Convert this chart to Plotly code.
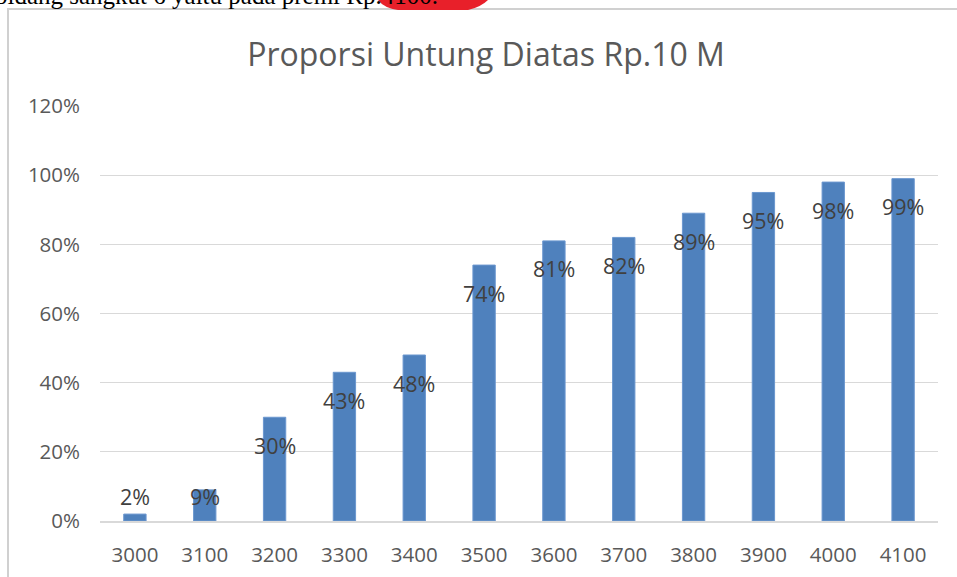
import plotly.graph_objects as go

categories = ["3000", "3100", "3200", "3300", "3400", "3500", "3600", "3700", "3800", "3900", "4000", "4100"]
values = [0.02, 0.09, 0.30, 0.43, 0.48, 0.74, 0.81, 0.82, 0.89, 0.95, 0.98, 0.99]
labels = ["2%", "9%", "30%", "43%", "48%", "74%", "81%", "82%", "89%", "95%", "98%", "99%"]
title_text = "Proporsi Untung Diatas Rp.10 M"
top_text = "bidang sangkut 6 yaitu pada premi Rp.4100."

W, H = 957, 577
L, R, T, B = 100, 19, 106, 56
FONT = "'Open Sans', sans-serif"

fig = go.Figure()
fig.add_trace(go.Bar(
    x=categories, y=values,
    marker=dict(color="#4f81bd", line=dict(color="#6b97cf", width=1)),
    width=0.32,
    hoverinfo="skip",
))

# data labels: inside end of bar, kept above the minimum level for short bars
for i, (v, t) in enumerate(zip(values, labels)):
    ly = max(v - 0.081, 0.072)
    fig.add_annotation(x=i, y=ly, text=t, showarrow=False, yanchor="middle",
                       font=dict(family=FONT, size=21.5, color="#404040"))

fig.update_layout(
    width=W, height=H,
    margin=dict(l=L, r=R, t=T, b=B, autoexpand=False),
    paper_bgcolor="white", plot_bgcolor="white",
    showlegend=False,
    title=dict(text=title_text, x=486 / W, xanchor="center", y=1 - 55 / H, yanchor="middle",
               font=dict(family=FONT, size=32, color="#595959")),
    font=dict(family=FONT, color="#595959"),
)
fig.update_yaxes(range=[0, 1.2], dtick=0.2, tickformat=".0%", showgrid=True, gridcolor="#d9d9d9",
                 gridwidth=1, zeroline=False, showline=False, ticks="", automargin=False,
                 tickfont=dict(size=20.5, color="#595959"), ticklabelstandoff=19)
fig.update_xaxes(type="category", range=[-0.5, len(categories) - 0.5], showgrid=False,
                 showline=True, linecolor="#d9d9d9", linewidth=2,
                 ticks="", automargin=False,
                 tickfont=dict(size=20.5, color="#595959"), ticklabelstandoff=14)

pw = W - L - R
ph = H - T - B
def px_x(x):
    return (x - L) / pw
def px_y(y):
    return (H - B - y) / ph

# chart area border (only left and top visible in the crop)
fig.add_shape(type="rect", xref="paper", yref="paper",
              x0=px_x(8), x1=px_x(1100), y0=px_y(700), y1=px_y(9),
              line=dict(color="#d0d0d0", width=2), fillcolor="rgba(0,0,0,0)", layer="below")
# partially visible document text above the chart
fig.add_annotation(xref="paper", yref="paper", x=px_x(-7), y=px_y(11), xanchor="left", yanchor="bottom",
                   text=top_text, showarrow=False,
                   font=dict(family="'Liberation Serif', serif", size=25, color="#000000"))
# red mark at the top of the page crop
fig.add_shape(type="path", xref="paper", yref="paper",
              path=f"M {px_x(378)} {px_y(0)} Q {px_x(384)} {px_y(8)} {px_x(398)} {px_y(10)} "
                   f"L {px_x(468)} {px_y(10)} Q {px_x(481)} {px_y(7)} {px_x(488)} {px_y(0)} Z",
              fillcolor="#e8202a", line=dict(width=0), layer="above")

fig.write_html("out.html", post_script="document.body.style.margin='0';",
               config={"displayModeBar": False})
